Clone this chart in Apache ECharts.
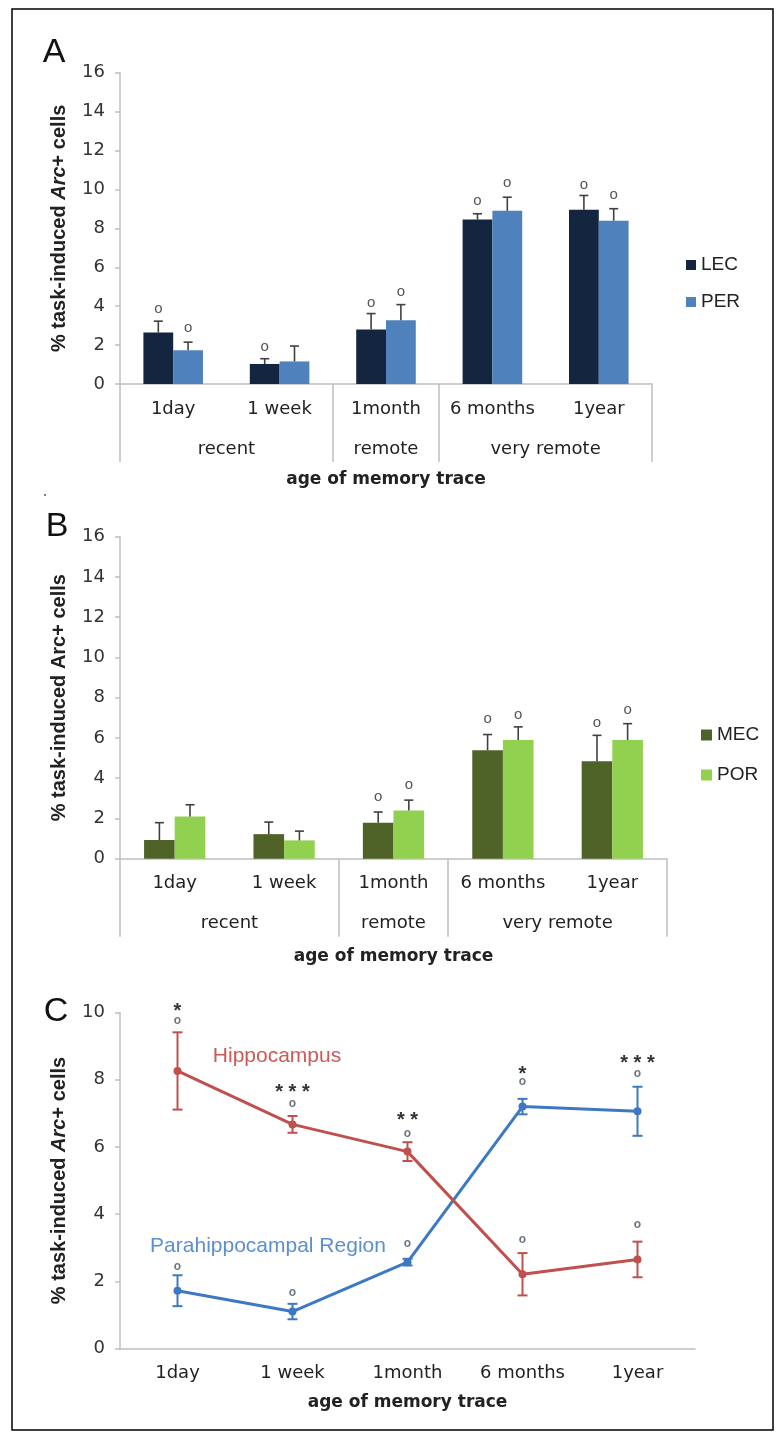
<!DOCTYPE html>
<html>
<head>
<meta charset="utf-8">
<script src="https://cdn.jsdelivr.net/npm/echarts@6/dist/echarts.min.js"></script>
<style>
html,body{margin:0;padding:0;background:#fff;}
#chart{width:784px;height:1439px;}
</style>
</head>
<body>
<div id="chart"></div>
<script>
// ---------- DATA ----------
const categories = ['1day', '1 week', '1month', '6 months', '1year'];
const groupNames = ['recent', 'remote', 'very remote'];
const groupCenters = [1, 2.5, 4];          // in category units
const groupBounds = [0, 2, 3, 5];          // category boundaries
const yTicksAB = [0, 2, 4, 6, 8, 10, 12, 14, 16];
const yTicksC = [0, 2, 4, 6, 8, 10];

// Panel A
const lecMean = [2.65, 1.03, 2.80, 8.45, 8.96];
const lecSem  = [0.58, 0.27, 0.82, 0.30, 0.73];
const lecMark = [3.79, 1.88, 4.14, 9.35, 10.17];
const perMean = [1.74, 1.16, 3.28, 8.90, 8.39];
const perSem  = [0.41, 0.79, 0.80, 0.70, 0.62];
const perMark = [2.85, null, 4.70, 10.29, 9.69];

// Panel B
const mecMean = [0.93, 1.22, 1.79, 5.39, 4.84];
const mecSem  = [0.86, 0.60, 0.53, 0.78, 1.29];
const mecMark = [null, null, 3.04, 6.88, 6.68];
const porMean = [2.10, 0.91, 2.40, 5.90, 5.90];
const porSem  = [0.58, 0.46, 0.51, 0.65, 0.81];
const porMark = [null, null, 3.62, 7.12, 7.34];

// Panel C
const hipMean = [8.26, 6.67, 5.86, 2.21, 2.65];
const hipSem  = [1.15, 0.25, 0.28, 0.63, 0.53];
const phrMean = [1.72, 1.10, 2.57, 7.20, 7.06];
const phrSem  = [0.46, 0.23, 0.10, 0.23, 0.73];
const cUpperCircle = [9.73, 7.26, 6.35, 7.90, 8.16];
const cLowerCircle = [2.40, 1.64, 3.10, 3.21, 3.66];
const cStars = ['*', '***', '**', '*', '***'];
const cStarY = [10.22, 7.81, 6.97, 8.34, 8.67];

// ---------- STYLE ----------
const FONT = 'Liberation Sans, Arial, sans-serif';
const WFONT = 'DejaVu Sans, Liberation Sans, sans-serif';
const AXIS_GRAY = '#bfbfbf';
const C_LEC = '#13253f', C_PER = '#4f81bd', C_MEC = '#4f6228', C_POR = '#92d050';
const C_HIP = '#c0504d', C_PHR = '#3d79c2';

const chart = echarts.init(document.getElementById('chart'), null, {renderer: 'canvas'});

function barErr(side, color) {
  return function (params, api) {
    const i = api.value(0), m = api.value(1), s = api.value(2);
    const bw = api.size([1, 0])[0];
    const dx = side * bw * 0.14;
    const top = api.coord([i, m + s]);
    const bot = api.coord([i, m]);
    const x = top[0] + dx;
    return {type: 'group', children: [
      {type: 'line', shape: {x1: x, y1: top[1], x2: x, y2: bot[1]}, style: {stroke: color, lineWidth: 1.6}},
      {type: 'line', shape: {x1: x - 4.5, y1: top[1], x2: x + 4.5, y2: top[1]}, style: {stroke: color, lineWidth: 1.6}}
    ]};
  };
}
function lineErr(color) {
  return function (params, api) {
    const i = api.value(0), m = api.value(1), s = api.value(2);
    const top = api.coord([i, m + s]);
    const bot = api.coord([i, m - s]);
    const x = top[0];
    const st = {stroke: color, lineWidth: 2};
    return {type: 'group', children: [
      {type: 'line', shape: {x1: x, y1: top[1], x2: x, y2: bot[1]}, style: st},
      {type: 'line', shape: {x1: x - 5, y1: top[1], x2: x + 5, y2: top[1]}, style: st},
      {type: 'line', shape: {x1: x - 5, y1: bot[1], x2: x + 5, y2: bot[1]}, style: st}
    ]};
  };
}
function textMark(side, txtFn, size, color, weight, dy) {
  return function (params, api) {
    const i = api.value(0), v = api.value(1);
    const bw = api.size([1, 0])[0];
    const p = api.coord([i, v]);
    return {type: 'text', x: p[0] + side * bw * 0.14, y: p[1] + dy,
      style: {text: txtFn(params.dataIndex), fill: color, fontSize: size, fontFamily: FONT,
        fontWeight: weight, align: 'center', verticalAlign: 'middle'}};
  };
}
function markData(arr) {
  const out = [];
  arr.forEach((v, i) => { if (v !== null) out.push([i, v]); });
  return out;
}
function errData(mean, sem) { return mean.map((m, i) => [i, m, sem[i]]); }

function catAxis(gridIndex, nameGap) {
  return {
    type: 'category', gridIndex, data: categories, position: 'bottom', boundaryGap: true,
    axisLine: {show: true, lineStyle: {color: AXIS_GRAY, width: 1.5}},
    axisTick: {show: false},
    axisLabel: {interval: 0, hideOverlap: false, fontSize: 18, color: '#222', fontFamily: WFONT, margin: 16},
    name: 'age of memory trace', nameLocation: 'middle', nameGap,
    nameTextStyle: {fontSize: 17, fontWeight: 'bold', color: '#222', fontFamily: WFONT}
  };
}
function groupAxis(gridIndex) {
  return {
    type: 'value', gridIndex, min: 0, max: 5, position: 'bottom',
    axisLine: {show: false}, splitLine: {show: false},
    axisTick: {show: true, customValues: groupBounds, length: 78, lineStyle: {color: AXIS_GRAY, width: 1.5}},
    axisLabel: {show: true, customValues: groupCenters, hideOverlap: false, margin: 56, fontSize: 18, color: '#222', fontFamily: WFONT,
      formatter: v => groupNames[groupCenters.indexOf(v)] || ''}
  };
}
function valAxis(gridIndex, max, italic) {
  return {
    type: 'value', gridIndex, min: 0, max, interval: 2,
    axisLine: {show: true, lineStyle: {color: AXIS_GRAY, width: 1.5}},
    axisTick: {show: true, length: 5, lineStyle: {color: AXIS_GRAY, width: 1.5}},
    splitLine: {show: false},
    axisLabel: {fontSize: 18, color: '#333', fontFamily: WFONT, margin: 15},
    name: italic ? '% task-induced {i|Arc}+ cells' : '% task-induced Arc+ cells',
    nameLocation: 'middle', nameGap: 51, nameRotate: 90,
    nameTextStyle: {fontSize: 20, fontWeight: 'bold', color: '#222', fontFamily: FONT,
      rich: {i: {fontSize: 20, fontWeight: 'bold', fontStyle: 'italic', color: '#222', fontFamily: FONT}}}
  };
}

const option = {
  animation: false,
  backgroundColor: '#fff',
  textStyle: {fontFamily: FONT},
  grid: [
    {left: 120, top: 72.7, width: 532, height: 311.3},
    {left: 120, top: 536.7, width: 547, height: 322},
    {left: 120, top: 1012.5, width: 575, height: 336}
  ],
  xAxis: [
    catAxis(0, 87), groupAxis(0),
    catAxis(1, 89), groupAxis(1),
    catAxis(2, 46)
  ],
  yAxis: [valAxis(0, 16, true), valAxis(1, 16, false), valAxis(2, 10, true)],
  legend: [
    {data: ['LEC', 'PER'], orient: 'vertical', left: 686, top: 255, itemWidth: 10, itemHeight: 10, itemGap: 17,
      padding: 0, icon: 'rect', textStyle: {fontSize: 19, color: '#222', lineHeight: 20, fontFamily: FONT}},
    {data: ['MEC', 'POR'], orient: 'vertical', left: 701, top: 725, itemWidth: 11, itemHeight: 11, itemGap: 20,
      padding: 0, icon: 'rect', textStyle: {fontSize: 19, color: '#222', lineHeight: 20, fontFamily: FONT}}
  ],
  series: [
    // Panel A bars
    {name: 'LEC', type: 'bar', xAxisIndex: 0, yAxisIndex: 0, data: lecMean, barWidth: '28%', barGap: '0%', itemStyle: {color: C_LEC}},
    {name: 'PER', type: 'bar', xAxisIndex: 0, yAxisIndex: 0, data: perMean, barWidth: '28%', barGap: '0%', itemStyle: {color: C_PER}},
    {type: 'custom', xAxisIndex: 0, yAxisIndex: 0, data: errData(lecMean, lecSem), renderItem: barErr(-1, '#404040'), z: 5},
    {type: 'custom', xAxisIndex: 0, yAxisIndex: 0, data: errData(perMean, perSem), renderItem: barErr(1, '#404040'), z: 5},
    {type: 'custom', xAxisIndex: 0, yAxisIndex: 0, data: markData(lecMark), renderItem: textMark(-1, () => 'o', 15, '#555', 'normal', -1), z: 5},
    {type: 'custom', xAxisIndex: 0, yAxisIndex: 0, data: markData(perMark), renderItem: textMark(1, () => 'o', 15, '#555', 'normal', -1), z: 5},
    // Panel B bars
    {name: 'MEC', type: 'bar', xAxisIndex: 2, yAxisIndex: 1, data: mecMean, barWidth: '28%', barGap: '0%', itemStyle: {color: C_MEC}},
    {name: 'POR', type: 'bar', xAxisIndex: 2, yAxisIndex: 1, data: porMean, barWidth: '28%', barGap: '0%', itemStyle: {color: C_POR}},
    {type: 'custom', xAxisIndex: 2, yAxisIndex: 1, data: errData(mecMean, mecSem), renderItem: barErr(-1, '#404040'), z: 5},
    {type: 'custom', xAxisIndex: 2, yAxisIndex: 1, data: errData(porMean, porSem), renderItem: barErr(1, '#404040'), z: 5},
    {type: 'custom', xAxisIndex: 2, yAxisIndex: 1, data: markData(mecMark), renderItem: textMark(-1, () => 'o', 15, '#555', 'normal', -1), z: 5},
    {type: 'custom', xAxisIndex: 2, yAxisIndex: 1, data: markData(porMark), renderItem: textMark(1, () => 'o', 15, '#555', 'normal', -1), z: 5},
    // Panel C lines
    {name: 'Parahippocampal Region', type: 'line', xAxisIndex: 4, yAxisIndex: 2, data: phrMean,
      symbol: 'circle', symbolSize: 8, lineStyle: {color: C_PHR, width: 3}, itemStyle: {color: C_PHR}, z: 3},
    {name: 'Hippocampus', type: 'line', xAxisIndex: 4, yAxisIndex: 2, data: hipMean,
      symbol: 'circle', symbolSize: 8, lineStyle: {color: C_HIP, width: 3}, itemStyle: {color: C_HIP}, z: 4},
    {type: 'custom', xAxisIndex: 4, yAxisIndex: 2, data: errData(phrMean, phrSem), renderItem: lineErr(C_PHR), z: 5},
    {type: 'custom', xAxisIndex: 4, yAxisIndex: 2, data: errData(hipMean, hipSem), renderItem: lineErr(C_HIP), z: 5},
    {type: 'custom', xAxisIndex: 4, yAxisIndex: 2, data: cUpperCircle.map((v, i) => [i, v]),
      renderItem: textMark(0, () => 'o', 12, '#6b7682', 'bold', -1), z: 6},
    {type: 'custom', xAxisIndex: 4, yAxisIndex: 2, data: cLowerCircle.map((v, i) => [i, v]),
      renderItem: textMark(0, () => 'o', 12, '#6b7682', 'bold', -1), z: 6},
    {type: 'custom', xAxisIndex: 4, yAxisIndex: 2, data: cStarY.map((v, i) => [i, v]),
      renderItem: textMark(0, idx => cStars[idx].split('').join(' '), 20, '#333', 'bold', 6), z: 6}
  ],
  graphic: [
    {type: 'rect', shape: {x: 12, y: 9, width: 761, height: 1421}, style: {fill: 'none', stroke: '#000', lineWidth: 1.5}, z: 100},
    {type: 'text', x: 54, y: 53, style: {text: 'A', fontSize: 34, fontFamily: FONT, fill: '#111', align: 'center', verticalAlign: 'middle'}},
    {type: 'text', x: 57, y: 527, style: {text: 'B', fontSize: 34, fontFamily: FONT, fill: '#111', align: 'center', verticalAlign: 'middle'}},
    {type: 'text', x: 56, y: 1012, style: {text: 'C', fontSize: 34, fontFamily: FONT, fill: '#111', align: 'center', verticalAlign: 'middle'}},
    {type: 'circle', shape: {cx: 45, cy: 495, r: 1}, style: {fill: '#555'}},
    {type: 'text', x: 277, y: 1056, style: {text: 'Hippocampus', fontSize: 21, fontFamily: FONT, fill: '#cc5a57', align: 'center', verticalAlign: 'middle'}},
    {type: 'text', x: 268, y: 1246, style: {text: 'Parahippocampal Region', fontSize: 21, fontFamily: FONT, fill: '#5b8fd0', align: 'center', verticalAlign: 'middle'}}
  ]
};
chart.setOption(option);
</script>
</body>
</html>
